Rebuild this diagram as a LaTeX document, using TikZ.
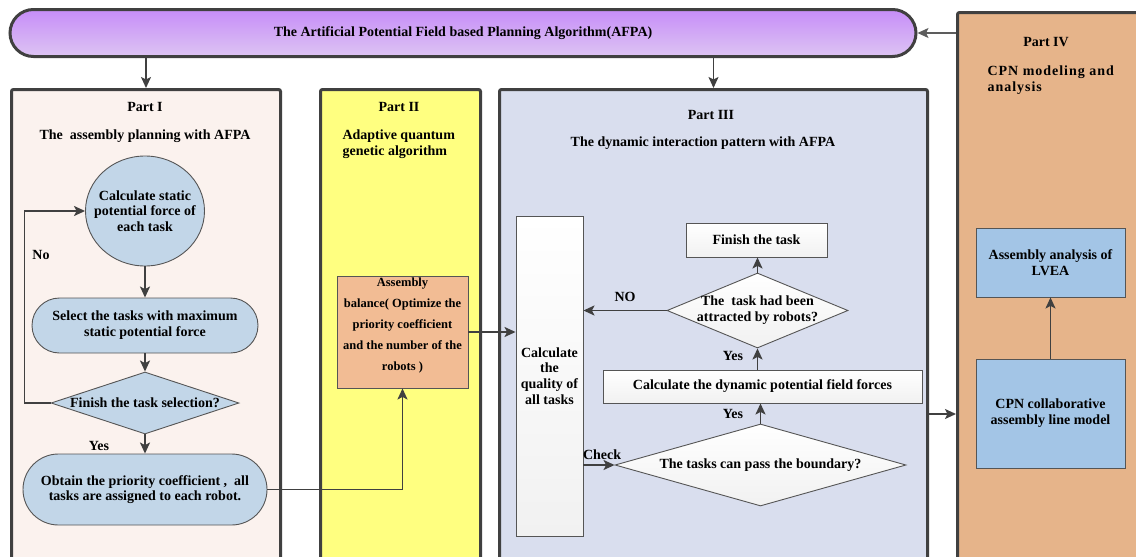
\documentclass[tikz,border=0pt]{standalone}
\usepackage{fontspec}
\setmainfont{Liberation Serif}
\newfontfamily\spacedfont{Liberation Serif}[LetterSpace=7]
\usetikzlibrary{arrows.meta,shapes.geometric,calc}

\definecolor{edge}{HTML}{404040}
\definecolor{thinedge}{HTML}{555555}
\definecolor{partone}{HTML}{FBF2EE}
\definecolor{parttwo}{HTML}{FFFF80}
\definecolor{partthree}{HTML}{D9DEEE}
\definecolor{partfour}{HTML}{E6B48A}
\definecolor{stepblue}{HTML}{C2D6E8}
\definecolor{balancefill}{HTML}{F2BC94}
\definecolor{cpnblue}{HTML}{A3C5E6}
\definecolor{titletop}{HTML}{C68DF8}
\definecolor{titlebottom}{HTML}{DDC4F3}
\definecolor{boxgray}{HTML}{F1F1F1}

\tikzset{
  txt/.style={font=\bfseries\fontsize{14}{16}\selectfont, text=black},
  partbox/.style={draw=edge, line width=3pt, rounded corners=2pt, inner sep=0pt},
  stepshape/.style={draw=thinedge, line width=0.9pt, fill=stepblue, inner sep=0pt},
  whitebox/.style={draw=thinedge, line width=0.9pt, top color=white, bottom color=boxgray, inner sep=0pt},
  bluebox/.style={draw=thinedge, line width=0.9pt, fill=cpnblue, inner sep=0pt},
  arr/.style={draw=edge, line width=1.6pt, -{Stealth[length=11pt, width=10pt, inset=2.5pt]}},
  thinarr/.style={draw=edge!85, line width=1.1pt, -{Stealth[length=11pt, width=10pt, inset=2.5pt]}},
}

\begin{document}
\begin{tikzpicture}[x=1pt, y=-1pt, every node/.append style={txt}]
\useasboundingbox (0,0) rectangle (1136,557);
\clip (0,0) rectangle (1136,557);

% the four working parts
\node[partbox, fill=partone, minimum width=269, minimum height=500, anchor=north west] (p1) at (10,88) {};
\node[partbox, fill=parttwo, minimum width=160, minimum height=500, anchor=north west] (p2) at (319,88) {};
\node[partbox, fill=partthree, minimum width=428, minimum height=500, anchor=north west] (p3) at (498,88) {};
\node[partbox, fill=partfour, minimum width=200, minimum height=580, anchor=north west] (p4) at (956,11) {};

% algorithm banner
\node[draw=edge, line width=3pt, rounded corners=23.5pt, minimum width=906, minimum height=47,
      top color=titletop, bottom color=titlebottom, inner sep=0pt] (afpa) at (463,33)
      {The Artificial Potential Field based Planning Algorithm(AFPA)};

\draw[arr] (afpa.south -| p1.north) -- (p1.north);
\draw[arr] (afpa.south -| p3.north) -- (p3.north);
\draw[thinarr] (p4.west |- afpa.east) -- (afpa.east);

% part headings
\node (h1a) at (145,107) {Part I};
\node (h1b) at (145,136) {The\ \ assembly planning with AFPA};
\node (h2a) at (399,107) {Part II};
\node[align=left, anchor=west] (h2b) at (339,144) {Adaptive quantum\\genetic algorithm};
\node (h3a) at (711,115) {Part III};
\node (h3b) at (703,143) {The dynamic interaction pattern with AFPA};
\node (h4a) at (1046,42) {Part IV};
\node[align=left, anchor=west, font=\spacedfont\bfseries\fontsize{14}{16}\selectfont] (h4b) at (984,80) {CPN modeling and\\analysis};

% Part I: static planning loop
\node[stepshape, ellipse, minimum width=119, minimum height=110,
      label={[txt, align=center, font=\bfseries\fontsize{14}{15.5}\selectfont]center:{Calculate static\\potential force of\\each task}}] (c1) at (145,211) {};
\node[stepshape, rounded corners=27.5pt, minimum width=226, minimum height=55, align=center] (s1) at (145,325.5)
      {Select the tasks with maximum\\static potential force};
\node[stepshape, diamond, minimum width=188, minimum height=62,
      label={[txt]center:{Finish the task selection?}}] (d1) at (145,403) {};
\node[stepshape, rounded corners=35.5pt, minimum width=244, minimum height=71, align=center,
      font=\bfseries\fontsize{14}{15}\selectfont] (s2) at (145,489.5)
      {Obtain the priority coefficient ,\ \ all\\tasks are assigned to each robot.};

\draw[arr] (c1) -- (s1);
\draw[arr] (s1) -- (d1);
\draw[arr] (d1) -- (s2);
\draw[arr] (d1.west) -- ++(-26,0) |- (c1.west);
\node (no1) at (41,255) {No};
\node (yes1) at (99,446) {Yes};

% Part II: balancing
\node[draw=thinedge, line width=0.9pt, fill=balancefill, minimum width=131, minimum height=112, inner sep=0pt,
      label={[align=center, font=\bfseries\fontsize{12.5}{21}\selectfont, yshift=6.5pt]center:{Assembly\\balance( Optimize the\\priority coefficient\\and the number of the\\robots )}}] (bal) at (402.5,332) {};
\draw[arr] (s2.east) -| (bal.south);

% Part III: dynamic interaction
\node[whitebox, minimum width=67, minimum height=320, align=center,
      font=\bfseries\fontsize{14}{15.7}\selectfont] (q) at (549.5,376) {Calculate\\the\\quality of\\all tasks};
\node[whitebox, minimum width=141, minimum height=34] (fin) at (756.5,240) {Finish the task};
\node[whitebox, diamond, minimum width=181, minimum height=75,
      label={[align=center, font=\bfseries\fontsize{14}{16}\selectfont]center:{The\ \ task had been\\attracted by robots?}}] (d2) at (757.5,310.5) {};
\node[whitebox, minimum width=319, minimum height=33] (cb) at (762.5,386.5) {Calculate the dynamic potential field forces};
\node[whitebox, diamond, minimum width=291, minimum height=82,
      label={[txt]center:{The tasks can pass the boundary?}}] (d3) at (760.5,465) {};

\draw[arr] (bal.east) -- (bal.east -| q.west);
\draw[arr] (d2.north) -- (d2.north |- fin.south);
\draw[arr] (d2.west) -- node[pos=0.5, yshift=14pt] {NO} (d2.west -| q.east);
\draw[arr] (cb.north -| d2.south) -- (d2.south);
\node (yes2) at (733,356) {Yes};
\draw[arr] (d3.north) -- (d3.north |- cb.south);
\node (yes3) at (733,414) {Yes};
\draw[arr] (q.east |- d3.west) -- node[pos=0.6, yshift=10pt] {Check} (d3.west);

% hand-over to Part IV
\coordinate (handover) at (926,414);
\draw[arr] (p3.east |- handover) -- (p4.west |- handover);

% Part IV: CPN model
\node[bluebox, minimum width=149, minimum height=69, align=center] (lvea) at (1050.5,262.5) {Assembly analysis of\\LVEA};
\node[bluebox, minimum width=149, minimum height=109, align=center] (cpn) at (1050.5,413.5) {CPN collaborative\\assembly line model};
\draw[arr] (cpn.north) -- (lvea.south);
\end{tikzpicture}
\end{document}
